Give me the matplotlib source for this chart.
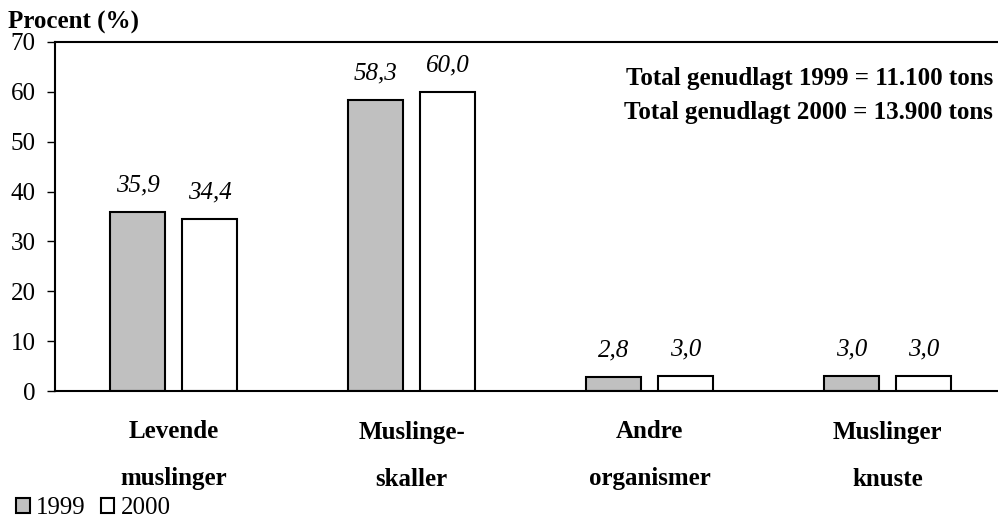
import matplotlib.pyplot as plt
import numpy as np

plt.rcParams['font.family'] = ['Liberation Serif', 'DejaVu Serif']

KATEGORIER = ["Levende\nmuslinger", "Muslinge-\nskaller", "Andre\norganismer", "Muslinger\nknuste"]
VAERDI_1999 = [35.9, 58.3, 2.8, 3.0]
VAERDI_2000 = [34.4, 60.0, 3.0, 3.0]
AAR = ["1999", "2000"]
TOTALER = ["Total genudlagt 1999 = 11.100 tons", "Total genudlagt 2000 = 13.900 tons"]


def etiket(v):
    return f"{v:.1f}".replace(".", ",")


fig = plt.figure(figsize=(9.98, 5.19), dpi=100)
ax = fig.add_axes([55 / 998, 1 - 391 / 519, (997 - 55) / 998, 349 / 519])

x = np.arange(len(KATEGORIER))
bredde = 0.231
forskyd = 0.151

b1 = ax.bar(x - forskyd, VAERDI_1999, bredde, color='#c0c0c0', edgecolor='black', linewidth=1.5, label=AAR[0])
b2 = ax.bar(x + forskyd, VAERDI_2000, bredde, color='white', edgecolor='black', linewidth=1.5, label=AAR[1])

for bars, vals in ((b1, VAERDI_1999), (b2, VAERDI_2000)):
    for rect, v in zip(bars, vals):
        ax.annotate(etiket(v), (rect.get_x() + rect.get_width() / 2, v),
                    xytext=(0, 15), textcoords='offset points',
                    ha='center', va='baseline', fontsize=18, style='italic')

ax.set_xlim(-0.498, 3.46)
ax.set_ylim(0, 70)
ax.set_yticks(range(0, 71, 10))
ax.set_xticks([])
ax.tick_params(axis='y', direction='out', length=6, width=1, labelsize=18, pad=8)

for side in ('top', 'bottom', 'left'):
    ax.spines[side].set_linewidth(1.5)
ax.spines['right'].set_visible(False)

# kategorinavne i to linjer
trans = ax.get_xaxis_transform()
for xi, navn in zip(x, KATEGORIER):
    linje1, linje2 = navn.split("\n")
    ax.text(xi, (391 - 432) / 349, linje1, ha='center', va='center', fontsize=18,
            fontweight='bold', transform=trans)
    ax.text(xi, (391 - 479) / 349, linje2, ha='center', va='center', fontsize=18,
            fontweight='bold', transform=trans)

fig.text(993 / 998, 1 - 78 / 519, TOTALER[0], ha='right', va='center', fontsize=18, fontweight='bold')
fig.text(993 / 998, 1 - 112 / 519, TOTALER[1], ha='right', va='center', fontsize=18, fontweight='bold')
fig.text(8 / 998, 1 - 22 / 519, "Procent (%)", ha='left', va='center', fontsize=18, fontweight='bold')

fig.legend(handles=[b1, b2], loc='center left', bbox_to_anchor=(16 / 998, 1 - 508 / 519), ncol=2, frameon=False,
           fontsize=18, handlelength=0.55, handleheight=0.55, handletextpad=0.25, columnspacing=0.6,
           borderaxespad=0, borderpad=0)

fig.savefig("out.png", dpi=100)
